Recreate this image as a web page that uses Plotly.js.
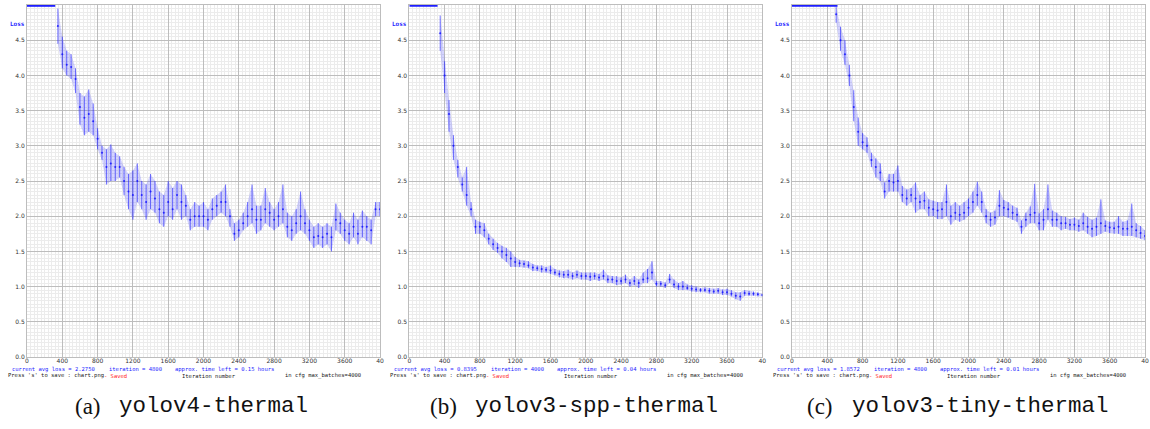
<!DOCTYPE html>
<html><head><meta charset="utf-8">
<script src="https://cdn.plot.ly/plotly-3.0.1.min.js"></script>
<style>html,body{margin:0;padding:0;background:#fff}#c{width:1150px;height:429px}</style>
</head><body><div id="c"></div>
<script>
// ---------- data ----------
const capX = [0, 320];            // loss above chart max (clipped at 5.0), panel a
const capY = [4.99, 4.99];
const capXb = [0, 320];
const capXc = [0, 515];

const iterA = [350,400,450,500,550,600,650,700,750,800,850,900,950,1000,1050,1100,1150,1200,1250,1300,1350,1400,1450,1500,1550,1600,1650,1700,1750,1800,1850,1900,1950,2000,2050,2100,2150,2200,2250,2300,2350,2400,2450,2500,2550,2600,2650,2700,2750,2800,2850,2900,2950,3000,3050,3100,3150,3200,3250,3300,3350,3400,3450,3500,3550,3600,3650,3700,3750,3800,3850,3900,3950,4000];
const loA  = [4.45,4.1,4.0,3.95,3.75,3.3,3.15,3.2,3.15,2.95,2.8,2.45,2.5,2.5,2.55,2.3,2.1,1.95,2.2,2.1,1.95,2.1,2.05,1.9,1.85,2.0,1.95,2.1,1.95,2.0,1.8,1.85,1.85,1.85,1.8,1.95,2.0,2.05,2.0,1.85,1.65,1.7,1.8,1.85,1.9,1.75,1.8,1.9,1.85,1.8,1.85,1.9,1.7,1.65,1.75,1.8,1.75,1.65,1.55,1.6,1.55,1.6,1.5,1.8,1.75,1.65,1.6,1.7,1.6,1.7,1.65,1.6,2.0,2.0];
const midA = [4.7,4.3,4.15,4.12,3.95,3.55,3.4,3.45,3.35,3.1,2.9,2.7,2.75,2.7,2.7,2.5,2.35,2.3,2.5,2.3,2.2,2.35,2.25,2.1,2.05,2.2,2.1,2.3,2.2,2.15,1.95,2.0,2.0,2.0,1.95,2.1,2.15,2.2,2.2,2.0,1.75,1.8,1.9,2.0,2.1,1.95,1.95,2.1,2.05,1.95,2.0,2.1,1.85,1.8,1.9,2.0,1.9,1.8,1.7,1.72,1.7,1.75,1.7,1.95,1.9,1.8,1.75,1.85,1.75,1.85,1.85,1.8,2.1,2.1];
const hiA  = [4.95,4.55,4.35,4.3,4.1,3.75,3.7,3.8,3.6,3.25,3.0,2.95,3.02,2.9,2.85,2.7,2.6,2.65,2.75,2.5,2.45,2.6,2.5,2.35,2.3,2.5,2.4,2.5,2.45,2.3,2.1,2.2,2.15,2.2,2.1,2.25,2.3,2.35,2.45,2.1,1.9,1.95,2.05,2.2,2.45,2.15,2.15,2.4,2.2,2.1,2.2,2.45,2.05,2.0,2.1,2.35,2.1,1.95,1.85,1.9,1.85,1.9,1.85,2.18,2.05,1.95,1.9,2.05,1.95,2.08,2.0,1.95,2.2,2.2];

const iterB = [350,400,450,500,550,600,650,700,750,800,850,900,950,1000,1050,1100,1150,1200,1250,1300,1350,1400,1450,1500,1550,1600,1650,1700,1750,1800,1850,1900,1950,2000,2050,2100,2150,2200,2250,2300,2350,2400,2450,2500,2550,2600,2650,2700,2750,2800,2850,2900,2950,3000,3050,3100,3150,3200,3250,3300,3350,3400,3450,3500,3550,3600,3650,3700,3750,3800,3850,3900,3950,4000];
const loB  = [4.35,3.75,3.2,2.8,2.55,2.35,2.15,2.0,1.75,1.75,1.7,1.6,1.52,1.48,1.4,1.35,1.28,1.28,1.28,1.27,1.26,1.22,1.22,1.2,1.2,1.18,1.16,1.13,1.12,1.12,1.1,1.12,1.1,1.1,1.08,1.1,1.08,1.1,1.05,1.05,1.02,1.03,1.05,1.0,1.02,0.98,1.05,1.05,1.1,1.0,1.0,0.98,1.05,0.98,0.95,0.95,0.95,0.93,0.92,0.92,0.92,0.9,0.9,0.9,0.88,0.88,0.86,0.82,0.8,0.87,0.87,0.87,0.86,0.86];
const midB = [4.6,4.0,3.45,3.0,2.7,2.45,2.3,2.1,1.85,1.85,1.8,1.68,1.6,1.55,1.5,1.45,1.4,1.35,1.33,1.32,1.3,1.27,1.26,1.25,1.24,1.23,1.2,1.18,1.17,1.17,1.15,1.17,1.15,1.15,1.14,1.15,1.13,1.15,1.1,1.1,1.08,1.08,1.1,1.05,1.08,1.05,1.1,1.12,1.2,1.04,1.04,1.02,1.1,1.03,1.0,1.0,0.98,0.97,0.96,0.95,0.95,0.94,0.93,0.94,0.92,0.92,0.9,0.87,0.86,0.91,0.9,0.9,0.89,0.88];
const hiB  = [4.85,4.2,3.65,3.15,2.8,2.55,2.7,2.2,1.95,1.92,1.9,1.75,1.68,1.62,1.58,1.55,1.5,1.42,1.38,1.37,1.36,1.32,1.3,1.3,1.28,1.3,1.25,1.23,1.22,1.24,1.2,1.23,1.2,1.2,1.2,1.2,1.18,1.24,1.16,1.15,1.15,1.13,1.17,1.1,1.15,1.1,1.2,1.25,1.36,1.08,1.08,1.06,1.18,1.1,1.05,1.08,1.03,1.02,1.0,0.98,0.99,0.98,0.97,0.98,0.96,0.97,0.95,0.92,0.92,0.95,0.94,0.93,0.92,0.9];

const iterC = [500,550,600,650,700,750,800,850,900,950,1000,1050,1100,1150,1200,1250,1300,1350,1400,1450,1500,1550,1600,1650,1700,1750,1800,1850,1900,1950,2000,2050,2100,2150,2200,2250,2300,2350,2400,2450,2500,2550,2600,2650,2700,2750,2800,2850,2900,2950,3000,3050,3100,3150,3200,3250,3300,3350,3400,3450,3500,3550,3600,3650,3700,3750,3800,3850,3900,3950,4000];
const loC  = [4.75,4.35,4.15,3.85,3.35,3.0,2.95,2.9,2.7,2.55,2.5,2.25,2.35,2.35,2.35,2.2,2.15,2.2,2.05,2.1,2.1,2.0,2.0,1.96,1.96,2.0,1.88,1.95,1.92,1.95,2.0,2.05,2.15,2.05,1.9,1.85,1.88,2.0,2.0,1.98,1.95,1.92,1.75,1.85,1.9,1.9,1.8,1.8,1.95,1.85,1.85,1.8,1.82,1.8,1.8,1.78,1.8,1.75,1.7,1.72,1.75,1.78,1.76,1.75,1.75,1.72,1.72,1.72,1.7,1.68,1.66];
const midC = [4.87,4.5,4.3,4.0,3.55,3.2,3.05,3.0,2.8,2.7,2.62,2.35,2.5,2.48,2.5,2.3,2.25,2.3,2.25,2.2,2.22,2.12,2.1,2.08,2.1,2.2,2.0,2.05,2.02,2.05,2.12,2.2,2.3,2.2,2.0,1.95,1.98,2.15,2.12,2.1,2.05,2.02,1.85,1.95,2.02,2.05,1.9,1.95,2.1,1.95,1.95,1.9,1.9,1.88,1.88,1.86,1.9,1.85,1.82,1.85,1.9,1.86,1.84,1.83,1.85,1.82,1.82,1.85,1.8,1.76,1.72];
const hiC  = [4.98,4.69,4.5,4.15,3.79,3.4,3.18,3.12,2.9,2.82,2.75,2.48,2.6,2.6,2.72,2.43,2.38,2.4,2.48,2.3,2.35,2.24,2.22,2.2,2.2,2.45,2.15,2.2,2.15,2.2,2.25,2.35,2.49,2.35,2.1,2.05,2.08,2.37,2.23,2.2,2.15,2.12,1.94,2.05,2.14,2.46,2.04,2.1,2.45,2.08,2.05,2.0,1.99,1.96,1.98,1.95,2.05,1.99,1.95,1.98,2.24,1.94,1.92,1.92,2.0,1.92,1.94,2.18,1.9,1.86,1.8];

const yTicks = [0,0.5,1,1.5,2,2.5,3,3.5,4,4.5];
const yTickText = ["0.0","0.5","1.0","1.5","2.0","2.5","3.0","3.5","4.0","4.5"];
const xTicks = [0,400,800,1200,1600,2000,2400,2800,3200,3600,4000];
const xTickText = ["0","400","800","1200","1600","2000","2400","2800","3200","3600","40"];

const avgLoss = ["2.2750","0.8395","1.8572"];
const iterNow = ["4800","4000","4800"];
const timeLeft = ["0.15","0.04","0.01"];
const captionTag = ["(a)","(b)","(c)"];
const captionName = ["yolov4-thermal","yolov3-spp-thermal","yolov3-tiny-thermal"];

// ---------- layout helpers ----------
const W = 1150, H = 429;
const px = v => v / W;
const py = v => (H - v) / H;
const panelLeft = [27, 409.3, 792];
const panelW = 353;
const BLUE = '#1e1eff';

const panels = [
  {it: iterA, lo: loA, mid: midA, hi: hiA, cap: capX},
  {it: iterB, lo: loB, mid: midB, hi: hiB, cap: capXb},
  {it: iterC, lo: loC, mid: midC, hi: hiC, cap: capXc}
];

const data = [];
const layout = {
  width: W, height: H, margin: {l:0, r:0, t:0, b:0},
  paper_bgcolor: '#fff', plot_bgcolor: '#fff',
  showlegend: false, annotations: []
};

panels.forEach((p, i) => {
  const xa = i === 0 ? 'x' : 'x' + (i + 1);
  const ya = i === 0 ? 'y' : 'y' + (i + 1);
  // spread band
  data.push({type: 'scatter', x: p.it, y: p.lo, xaxis: xa, yaxis: ya, mode: 'lines', line: {width: 0, color: BLUE}, hoverinfo: 'skip'});
  data.push({type: 'scatter', x: p.it, y: p.hi, xaxis: xa, yaxis: ya, mode: 'lines', line: {width: 0, color: BLUE}, fill: 'tonexty', fillcolor: 'rgba(60,60,255,0.22)', hoverinfo: 'skip'});
  // scatter with ranges
  data.push({
    type: 'scatter', x: p.it, y: p.mid, xaxis: xa, yaxis: ya, mode: 'markers',
    marker: {size: 2, color: 'rgba(20,20,255,0.85)'},
    error_y: {type: 'data', symmetric: false,
      array: p.hi.map((h, k) => h - p.mid[k]),
      arrayminus: p.lo.map((l, k) => p.mid[k] - l),
      width: 0, thickness: 1, color: 'rgba(30,30,255,0.6)'}
  });
  // clipped segment at top
  data.push({type: 'scatter', x: p.cap, y: capY, xaxis: xa, yaxis: ya, mode: 'lines', fill: 'none',
    line: {width: 2.2, color: BLUE}, opacity: 1});

  const l = panelLeft[i];
  const axX = {
    domain: [px(l), px(l + panelW)], range: [0, 4000], anchor: ya,
    tickmode: 'array', tickvals: xTicks, ticktext: xTickText,
    showgrid: true, gridcolor: '#bdbdbd', gridwidth: 1,
    minor: {tickmode: 'linear', tick0: 0, dtick: 40, showgrid: true, gridcolor: '#ececec', gridwidth: 1, ticks: ''},
    zeroline: false, showline: true, linecolor: '#bdbdbd', mirror: true, layer: 'below traces',
    ticks: '', ticklabelstandoff: -2, tickfont: {family: 'DejaVu Sans', size: 6, color: '#333'},
    fixedrange: true
  };
  const axY = {
    domain: [py(357), py(5)], range: [0, 5], anchor: xa,
    tickmode: 'array', tickvals: yTicks, ticktext: yTickText,
    showgrid: true, gridcolor: '#bdbdbd', gridwidth: 1,
    minor: {tickmode: 'linear', tick0: 0, dtick: 0.05, showgrid: true, gridcolor: '#ececec', gridwidth: 1, ticks: ''},
    zeroline: false, showline: true, linecolor: '#bdbdbd', mirror: true, layer: 'below traces',
    ticks: '', tickfont: {family: 'DejaVu Sans', size: 6, color: '#333'},
    fixedrange: true
  };
  layout[i === 0 ? 'xaxis' : 'xaxis' + (i + 1)] = axX;
  layout[i === 0 ? 'yaxis' : 'yaxis' + (i + 1)] = axY;

  const off = l - 27;
  const mono = 'DejaVu Sans Mono';
  const ann = (x, y, text, color, size, family) => layout.annotations.push({
    xref: 'paper', yref: 'paper', x: px(x + off), y: py(y), text: text, showarrow: false, borderpad: 0,
    xanchor: 'left', yanchor: 'middle', font: {family: family || mono, size: size || 5.5, color: color}
  });
  ann(9, 24, '<b>Loss</b>', BLUE, 6);
  ann(11, 369, 'current avg loss = ' + avgLoss[i], BLUE);
  ann(108, 369, 'iteration = ' + iterNow[i], BLUE);
  ann(174, 369, 'approx. time left = ' + timeLeft[i] + ' hours', BLUE);
  ann(7, 375.5, "Press 's' to save : chart.png", '#222');
  ann(103, 375.5, '- Saved', '#ff2020');
  ann(181, 375.5, 'Iteration number', '#222');
  ann(284, 375.5, 'in cfg max_batches=4000', '#222');
});

// captions
const capTagX = [73, 428, 805];
const capNameX = [117, 473, 850];
for (let i = 0; i < 3; i++) {
  layout.annotations.push({xref: 'paper', yref: 'paper', x: px(capTagX[i]), y: py(406), text: captionTag[i],
    showarrow: false, xanchor: 'left', yanchor: 'middle', font: {family: 'Liberation Serif', size: 23, color: '#111'}});
  layout.annotations.push({xref: 'paper', yref: 'paper', x: px(capNameX[i]), y: py(406), text: captionName[i],
    showarrow: false, xanchor: 'left', yanchor: 'middle', font: {family: 'Liberation Mono', size: 22.5, color: '#111'}});
}

Plotly.newPlot('c', data, layout, {displayModeBar: false, staticPlot: true});
</script>
</body></html>
